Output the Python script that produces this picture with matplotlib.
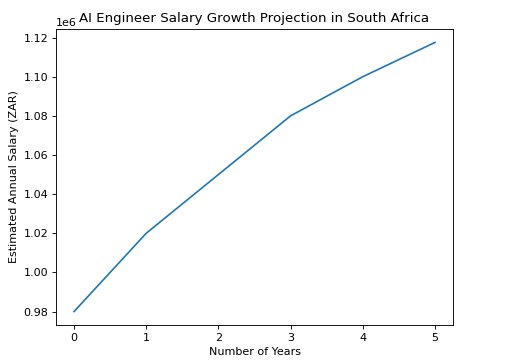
import matplotlib
matplotlib.use('Agg')
import matplotlib.pyplot as plt

# salary projection (ZAR)
years = [0, 1, 2, 3, 4, 5]
salary = [980000, 1020000, 1050000, 1080000, 1100000, 1117500]

fig = plt.figure(figsize=(508 / 80, 361 / 80), dpi=80)
ax = fig.add_axes([56 / 508, 1 - 325 / 361, (453 - 56) / 508, (325 - 29) / 361])
ax.plot(years, salary)
ax.set_title("AI Engineer Salary Growth Projection in South Africa")
ax.set_xlabel("Number of Years")
ax.set_ylabel("Estimated Annual Salary (ZAR)")

fig.savefig("out.png", dpi=80)
